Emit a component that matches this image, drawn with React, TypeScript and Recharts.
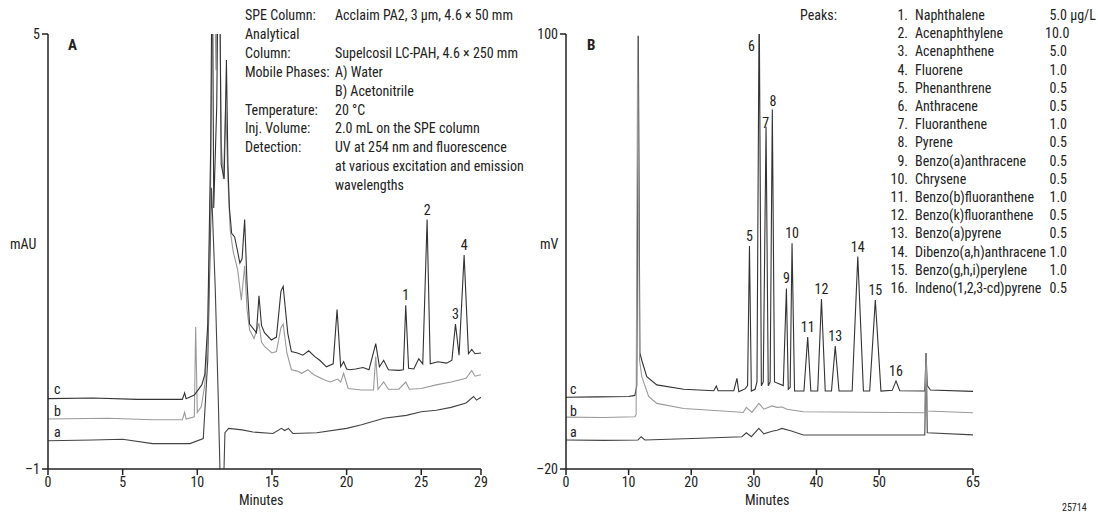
import React from 'react';
import { LineChart, Line, XAxis, YAxis, ReferenceDot } from 'recharts';

const FONT = "'Liberation Sans Narrow', 'Arial Narrow', 'Roboto Condensed', 'Liberation Sans', Arial, sans-serif";
const INK = '#222';

// ---- Panel A (UV, mAU) ----
const aTimesA = [0, 3, 5, 7, 9.5, 10.4, 10.7, 10.95, 11.2, 11.4, 11.55, 11.75, 11.85, 12.1, 13, 13.73, 15.07, 15.63, 15.85, 16.1, 16.4, 18, 20, 21, 22.5, 24, 25, 26, 27, 28, 28.5, 28.7, 29];
const aValsA = [-0.61, -0.6, -0.59, -0.65, -0.65, -0.58, 0.5, 2.88, 1.5, 0.0, -1.3, -1.3, -0.5, -0.44, -0.46, -0.49, -0.51, -0.44, -0.47, -0.44, -0.51, -0.5, -0.44, -0.39, -0.3, -0.26, -0.21, -0.19, -0.15, -0.09, 0.0, -0.05, -0.01];

const bTimesA = [0, 4, 7, 9, 9.15, 9.25, 9.8, 9.89, 10, 10.27, 10.5, 10.7, 10.9, 11.05, 11.25, 11.45, 11.6, 11.75, 11.9, 12.05, 12.2, 12.4, 12.7, 12.95, 13.17, 13.33, 13.5, 13.8, 14.13, 14.3, 14.5, 15, 15.3, 15.6, 15.75, 16, 16.3, 16.7, 17, 17.4, 17.8, 18.5, 18.9, 19.4, 19.6, 19.8, 20.1, 21, 21.8, 21.95, 22.1, 22.48, 22.8, 23.5, 23.96, 24.2, 25, 26, 27, 28, 28.38, 28.6, 29];
const bValsA = [-0.31, -0.3, -0.32, -0.32, -0.22, -0.31, -0.28, 0.96, -0.22, -0.14, 0.16, 0.8, 3.0, 7, 4.5, 7, 3.5, 3.0, 4.0, 3.0, 2.3, 2.0, 1.75, 1.33, 1.8, 1.2, 0.92, 0.8, 1.01, 0.75, 0.69, 0.6, 0.62, 0.95, 1.0, 0.6, 0.37, 0.35, 0.32, 0.37, 0.3, 0.23, 0.2, 0.24, 0.2, 0.32, 0.11, 0.09, 0.09, 0.55, 0.1, 0.2, 0.1, 0.1, 0.2, 0.1, 0.11, 0.16, 0.2, 0.25, 0.36, 0.28, 0.3];

const cTimesA = [0, 3, 6, 9, 9.15, 9.25, 9.8, 10.3, 10.5, 10.7, 10.9, 11.0, 11.1, 11.3, 11.45, 11.6, 11.8, 11.95, 12.05, 12.15, 12.3, 12.5, 12.7, 12.85, 13.0, 13.17, 13.33, 13.5, 13.96, 14.13, 14.3, 14.5, 14.96, 15.3, 15.6, 15.75, 16.06, 16.3, 16.7, 17.07, 17.46, 17.87, 18.2, 18.65, 19.1, 19.36, 19.6, 19.8, 20.0, 20.2, 20.6, 21.1, 21.5, 21.95, 22.2, 22.48, 22.8, 23.5, 23.8, 23.96, 24.15, 24.5, 24.83, 25.1, 25.39, 25.6, 26.12, 26.7, 27.05, 27.29, 27.53, 27.87, 28.16, 28.38, 28.6, 29];
const cValsA = [-0.03, -0.02, -0.04, -0.04, 0.05, -0.03, 0.02, 0.16, 0.3, 1.0, 3.5, 6.5, 2.6, 4.0, 7, 3.2, 3.0, 4.64, 3.2, 2.6, 2.25, 2.2, 2.0, 1.84, 1.9, 2.44, 1.56, 1.0, 0.88, 1.39, 0.98, 0.88, 0.78, 0.82, 1.45, 1.52, 0.87, 0.62, 0.6, 0.57, 0.63, 0.55, 0.5, 0.41, 0.45, 1.2, 0.41, 0.48, 0.38, 0.37, 0.38, 0.4, 0.37, 0.73, 0.41, 0.5, 0.37, 0.36, 0.37, 1.26, 0.39, 0.38, 0.52, 0.45, 2.44, 0.45, 0.48, 0.46, 0.5, 1.0, 0.57, 1.95, 0.59, 0.65, 0.59, 0.6];

const peakNamesA = ['1', '2', '3', '4'];
const peakTimesA = [23.96, 25.39, 27.29, 27.87];
const peakValsA = [1.26, 2.44, 1.0, 1.95];

// ---- Panel B (fluorescence, mV) ----
const aTimesB = [0, 6, 11.5, 12.0, 12.6, 21.4, 28.1, 28.8, 29.6, 30.8, 31.6, 32.9, 33.7, 34.5, 36, 37.9, 57.3, 57.5, 57.7, 65];
const aValsB = [-12, -12.1, -12, -11.1, -12, -11.5, -11.1, -10, -11.1, -8.8, -10.3, -9.6, -9.3, -8.8, -9.5, -10.6, -10.6, 12, -10, -10.6];

const bTimesB = [0, 6, 11.0, 11.2, 11.45, 11.75, 12.1, 13.2, 14.5, 18.8, 26.8, 28.3, 28.8, 29.7, 30.8, 31.6, 32.9, 33.7, 34.5, 35.3, 37.9, 57.3, 57.5, 57.7, 65];
const bValsB = [-5.7, -5.8, -5.6, -5, 99.5, 10, 5.5, 0, -1.9, -3.3, -4.2, -4.4, -3.0, -4.4, -1.9, -3.5, -2.6, -3.0, -2.9, -3.5, -4.2, -4.5, 12, -4, -4.5];

const cTimesB = [0, 5, 10, 11.0, 11.3, 11.55, 11.8, 12.1, 12.9, 14.5, 18.8, 23.6, 24.0, 24.3, 26.8, 27.3, 27.6, 28.1, 28.6, 29.0, 29.3, 29.6, 30.2, 30.5, 30.85, 31.2, 31.5, 31.95, 32.3, 32.6, 32.95, 33.3, 34.0, 34.7, 35.2, 35.5, 35.8, 36.1, 36.5, 38.0, 38.6, 39.1, 40.2, 40.8, 41.4, 42.4, 43.0, 43.6, 45.7, 46.6, 47.5, 48.5, 49.4, 50.3, 52.1, 52.7, 53.3, 57.3, 57.5, 57.7, 58.2, 65];
const cValsB = [-0.2, -0.1, 0, 0.3, 3, 99.5, 12, 10, 5.5, 3.2, 2.0, 1.6, 2.9, 1.6, 1.6, 5.0, 1.3, 1.7, 2.1, 3, 41.5, 1.5, 2, 4, 110, 3, 4, 74.4, 3, 4, 79.2, 4, 3.5, 3, 29.8, 2, 2.5, 42.3, 1.5, 1.5, 16.4, 1.5, 1.5, 26.9, 1.5, 1.5, 13.9, 1.5, 1.5, 38.6, 1.5, 1.5, 26.6, 1.5, 1.7, 4.3, 1.6, 1.5, 12, 3, 1.8, 1.4];

const peakNamesB = ['5', '6', '7', '8', '9', '10', '11', '12', '13', '14', '15', '16'];
const labelTimesB = [29.3, 29.6, 31.9, 33.06, 35.2, 36.1, 38.6, 40.8, 43.0, 46.6, 49.4, 52.7];
const labelValsB = [41.5, 93.9, 72.7, 78.8, 29.8, 42.3, 16.4, 26.9, 13.9, 38.6, 26.6, 4.3];

// ---- conditions / peak table ----
const condKeys = ['SPE Column:', 'Analytical', 'Column:', 'Mobile Phases:', '', 'Temperature:', 'Inj. Volume:', 'Detection:', '', ''];
const condVals = ['Acclaim PA2, 3 µm, 4.6 × 50 mm', '', 'Supelcosil LC-PAH, 4.6 × 250 mm', 'A) Water', 'B) Acetonitrile', '20 °C', '2.0 mL on the SPE column', 'UV at 254 nm and fluorescence', 'at various excitation and emission', 'wavelengths'];

const compounds = ['Naphthalene', 'Acenaphthylene', 'Acenaphthene', 'Fluorene', 'Phenanthrene', 'Anthracene', 'Fluoranthene', 'Pyrene', 'Benzo(a)anthracene', 'Chrysene', 'Benzo(b)fluoranthene', 'Benzo(k)fluoranthene', 'Benzo(a)pyrene', 'Dibenzo(a,h)anthracene', 'Benzo(g,h,i)perylene', 'Indeno(1,2,3-cd)pyrene'];
const amounts = ['5.0', '10.0', '5.0', '1.0', '0.5', '0.5', '1.0', '0.5', '0.5', '0.5', '1.0', '0.5', '0.5', '1.0', '1.0', '0.5'];

const zip = (ts: number[], vs: number[]) => ts.map((t, i) => ({ t, v: vs[i] }));
const minus = (v: number) => String(v).replace('-', '\u2013');

const tickStyle = { fontSize: 14, fill: INK, fontFamily: FONT };
const axisLine = { stroke: INK, strokeWidth: 1.5 };

const traceColors = { a: '#444', b: '#9a9a9a', c: '#333' };

const abs = (left: number, top: number, extra: React.CSSProperties = {}): React.CSSProperties => ({
  position: 'absolute', left, top, whiteSpace: 'nowrap', ...extra,
});

function PanelA() {
  return (
    <LineChart width={520} height={517} margin={{ top: 34, right: 39, left: 0, bottom: 0 }}>
      <XAxis type="number" dataKey="t" domain={[0, 29]} ticks={[0, 5, 10, 15, 20, 25, 29]}
        height={48} tick={tickStyle} axisLine={axisLine} tickLine={axisLine} tickSize={6} allowDataOverflow />
      <YAxis type="number" dataKey="v" domain={[-1, 5]} ticks={[-1, 5]} width={48} tickFormatter={minus}
        tick={tickStyle} axisLine={axisLine} tickLine={axisLine} tickSize={6} allowDataOverflow />
      <Line data={zip(aTimesA, aValsA)} dataKey="v" stroke={traceColors.a} strokeWidth={1.1} dot={false} isAnimationActive={false} />
      <Line data={zip(bTimesA, bValsA)} dataKey="v" stroke={traceColors.b} strokeWidth={1.1} dot={false} isAnimationActive={false} />
      <Line data={zip(cTimesA, cValsA)} dataKey="v" stroke={traceColors.c} strokeWidth={1.1} dot={false} isAnimationActive={false} />
      {peakNamesA.map((n, i) => (
        <ReferenceDot key={n} x={peakTimesA[i]} y={peakValsA[i]} r={0} stroke="none" ifOverflow="visible"
          label={{ value: n, position: 'top', offset: 5, fontSize: 14, fill: INK, fontFamily: FONT }} />
      ))}
    </LineChart>
  );
}

function PanelB() {
  return (
    <LineChart width={578} height={517} margin={{ top: 34, right: 125, left: 0, bottom: 0 }}>
      <XAxis type="number" dataKey="t" domain={[0, 65]} ticks={[0, 10, 20, 30, 40, 50, 65]}
        height={48} tick={tickStyle} axisLine={axisLine} tickLine={axisLine} tickSize={6} allowDataOverflow />
      <YAxis type="number" dataKey="v" domain={[-20, 100]} ticks={[-20, 100]} width={46} tickFormatter={minus}
        tick={tickStyle} axisLine={axisLine} tickLine={axisLine} tickSize={6} allowDataOverflow />
      <Line data={zip(aTimesB, aValsB)} dataKey="v" stroke={traceColors.a} strokeWidth={1.1} dot={false} isAnimationActive={false} />
      <Line data={zip(cTimesB, cValsB)} dataKey="v" stroke={traceColors.c} strokeWidth={1.1} dot={false} isAnimationActive={false} />
      <Line data={zip(bTimesB, bValsB)} dataKey="v" stroke={traceColors.b} strokeWidth={1.1} dot={false} isAnimationActive={false} />
      {peakNamesB.map((n, i) => (
        <ReferenceDot key={n} x={labelTimesB[i]} y={labelValsB[i]} r={0} stroke="none" ifOverflow="visible"
          label={{ value: n, position: 'top', offset: 5, fontSize: 14, fill: INK, fontFamily: FONT }} />
      ))}
    </LineChart>
  );
}

export default function App() {
  const txt: React.CSSProperties = { fontSize: 14, lineHeight: '16px', color: INK };
  return (
    <div style={{ position: 'absolute', left: 0, top: 0, width: 1098, height: 517, background: '#fff', fontFamily: FONT, color: INK, overflow: 'hidden' }}>
      <div style={abs(0, 0)}><PanelA /></div>
      <div style={abs(520, 0)}><PanelB /></div>

      {/* panel letters and axis titles */}
      <div style={abs(68, 36, { fontSize: 15, fontWeight: 'bold' })}>A</div>
      <div style={abs(587, 36, { fontSize: 15, fontWeight: 'bold' })}>B</div>
      <div style={abs(10, 236, txt)}>mAU</div>
      <div style={abs(540, 236, txt)}>mV</div>
      <div style={abs(239, 492, txt)}>Minutes</div>
      <div style={abs(745, 492, txt)}>Minutes</div>
      <div style={abs(1062, 502, { fontSize: 10, color: INK })}>25714</div>

      {/* trace labels */}
      {['c', 'b', 'a'].map((l, i) => (
        <div key={'A' + l} style={abs(54, 381 + i * 21.5, txt)}>{l}</div>
      ))}
      {['c', 'b', 'a'].map((l, i) => (
        <div key={'B' + l} style={abs(570, 381 + i * 21.5, txt)}>{l}</div>
      ))}

      {/* chromatographic conditions */}
      <div style={abs(245, 6, { fontSize: 14, lineHeight: '18.9px' })}>
        {condKeys.map((k, i) => (
          <div key={i} style={{ display: 'flex' }}>
            <span style={{ width: 90 }}>{k}</span>
            <span>{condVals[i]}</span>
          </div>
        ))}
      </div>

      {/* peak table */}
      <div style={abs(800, 6, { fontSize: 14, lineHeight: '18.2px' })}>Peaks:</div>
      <div style={abs(850, 6, { fontSize: 14, lineHeight: '18.2px' })}>
        {compounds.map((c, i) => (
          <div key={c} style={{ display: 'flex' }}>
            <span style={{ width: 58, textAlign: 'right' }}>{i + 1}.</span>
            <span style={{ width: 130, paddingLeft: 7 }}>{c}</span>
            <span style={{ width: 22, textAlign: 'right' }}>{amounts[i]}</span>
            {i === 0 && <span>&nbsp;µg/L</span>}
          </div>
        ))}
      </div>
    </div>
  );
}
